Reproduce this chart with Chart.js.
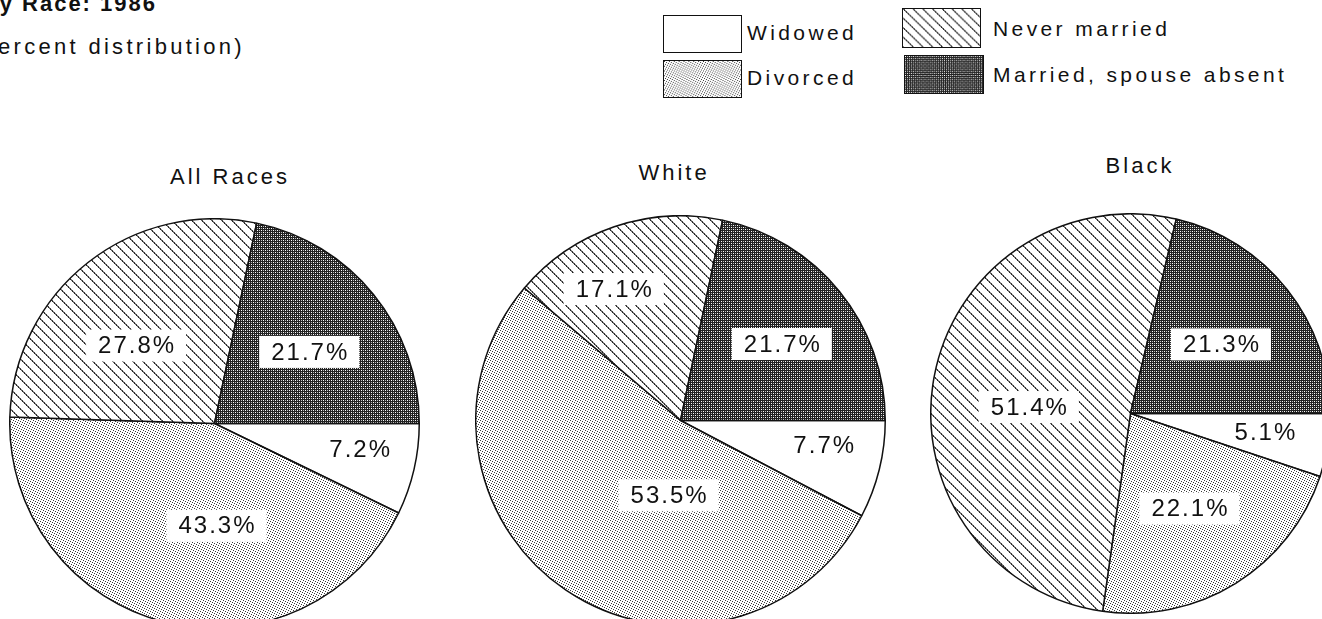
<!DOCTYPE html>
<html>
<head>
<meta charset="utf-8">
<script src="https://cdn.jsdelivr.net/npm/chart.js@4.4.0/dist/chart.umd.min.js"></script>
<style>
  html, body { margin: 0; padding: 0; background: #fff; }
  body { width: 1322px; height: 619px; overflow: hidden; position: relative;
         font-family: "Liberation Sans", Arial, sans-serif; color: #111; }
  .abs { position: absolute; white-space: nowrap; line-height: 1; }
  .pie { position: absolute; }
  .title { position: absolute; width: 200px; text-align: center; font-size: 22px;
           letter-spacing: 3px; line-height: 24px; }
  .legtext { position: absolute; font-size: 21px; letter-spacing: 3.4px; line-height: 1; white-space: nowrap; }
  .legbox { position: absolute; border: 1.5px solid #111; box-sizing: border-box; }
</style>
</head>
<body>
<div class="abs" style="right:1165px; top:-7px; font-size:22px; font-weight:bold; letter-spacing:2px;">by Race: 1986</div>
<div class="abs" style="right:1077px; top:36px; font-size:22px; letter-spacing:3.3px;">(percent distribution)</div>

<div id="legend"></div>

<div class="title" style="left:130px; top:165px;" id="t0"></div>
<div class="title" style="left:574px; top:161px;" id="t1"></div>
<div class="title" style="left:1040px; top:154px;" id="t2"></div>

<canvas id="pie0" class="pie" width="411" height="411" style="left:9px; top:218px;"></canvas>
<canvas id="pie1" class="pie" width="411" height="411" style="left:475px; top:215px;"></canvas>
<canvas id="pie2" class="pie" width="401" height="401" style="left:930px; top:213px;"></canvas>

<script>
// נתונים
const categories = ['Widowed', 'Divorced', 'Never married', 'Married, spouse absent'];
const chartTitles = ['All Races', 'White', 'Black'];
const allRacesValues = [7.2, 43.3, 27.8, 21.7];
const whiteValues = [7.7, 53.5, 17.1, 21.7];
const blackValues = [5.1, 22.1, 51.4, 21.3];

// דפוסי מילוי (כמו בהדפסה המקורית)
function makePattern(kind) {
    const c = document.createElement('canvas');
    const g = c.getContext('2d');
    if (kind === 'dots') {
        // נקודות מפוזרות בסריג של 5x5
        c.width = c.height = 5;
        g.fillStyle = '#fff'; g.fillRect(0, 0, 5, 5);
        g.fillStyle = '#3a3a3a';
        [[0, 0], [2, 1], [4, 2], [1, 3], [3, 4]].forEach(([x, y]) => g.fillRect(x, y, 1, 1));
    } else if (kind === 'dark') {
        c.width = c.height = 4;
        g.fillStyle = '#222'; g.fillRect(0, 0, 4, 4);
        g.fillStyle = '#fff';
        g.fillRect(0, 0, 1, 1); g.fillRect(2, 2, 1, 1);
        g.fillStyle = '#bbb';
        g.fillRect(2, 0, 1, 1); g.fillRect(0, 2, 1, 1);
    } else if (kind === 'hatch') {
        c.width = c.height = 10;
        g.fillStyle = '#fff'; g.fillRect(0, 0, 10, 10);
        for (let i = 0; i < 10; i++) {
            g.fillStyle = i % 2 ? '#222' : '#666';
            g.fillRect(i, i, 1, 1);
            g.fillStyle = i % 2 ? '#888' : '#444';
            g.fillRect((i + 1) % 10, i, 1, 1);
        }
    } else {
        c.width = c.height = 2;
        g.fillStyle = '#fff'; g.fillRect(0, 0, 2, 2);
    }
    return g.createPattern(c, 'repeat');
}

const fills = [makePattern('white'), makePattern('dots'), makePattern('hatch'), makePattern('dark')];

// תוויות האחוזים בתוך הפרוסות
const sliceLabels = {
    id: 'sliceLabels',
    afterDatasetsDraw(chart, args, opts) {
        const ctx = chart.ctx;
        const meta = chart.getDatasetMeta(0);
        const values = chart.data.datasets[0].data;
        ctx.save();
        ctx.font = '24px "Liberation Sans", Arial, sans-serif';
        ctx.letterSpacing = '2px';
        ctx.textAlign = 'center';
        ctx.textBaseline = 'middle';
        meta.data.forEach((arc, i) => {
            const p = arc.getProps(['x', 'y', 'startAngle', 'endAngle', 'outerRadius'], true);
            const mid = (p.startAngle + p.endAngle) / 2 + opts.turn[i] * Math.PI / 180;
            const d = opts.dist[i] * p.outerRadius;
            const x = p.x + Math.cos(mid) * d;
            const y = p.y + Math.sin(mid) * d;
            const text = values[i].toFixed(1) + '%';
            const w = ctx.measureText(text).width + 22;
            if (opts.boxed[i]) {
                ctx.fillStyle = '#fff';
                ctx.fillRect(x - w / 2, y - 16, w, 32);
            }
            ctx.fillStyle = '#111';
            ctx.fillText(text, x + 1, y + 1);
        });
        ctx.restore();
    }
};

function drawPie(canvasId, values, dist, turn) {
    const ctx = document.getElementById(canvasId).getContext('2d');
    return new Chart(ctx, {
        type: 'pie',
        data: {
            labels: categories,
            datasets: [{
                data: values,
                backgroundColor: fills,
                borderColor: '#111',
                borderWidth: 1.5
            }]
        },
        options: {
            responsive: false,
            animation: false,
            events: [],
            rotation: 90, // מתחיל בשעה 3
            layout: { padding: 0 },
            plugins: {
                legend: { display: false },
                tooltip: { enabled: false },
                sliceLabels: { dist: dist, turn: turn, boxed: [false, true, true, true] }
            }
        },
        plugins: [sliceLabels]
    });
}

drawPie('pie0', allRacesValues, [0.72, 0.50, 0.54, 0.58], [-3, -15, -7, 2]);
drawPie('pie1', whiteValues, [0.71, 0.37, 0.72, 0.62], [-4, -25, -8, 2]);
drawPie('pie2', blackValues, [0.68, 0.56, 0.51, 0.57], [-1, 0, -7, 1]);

chartTitles.forEach((t, i) => { document.getElementById('t' + i).textContent = t; });

// מקרא
const legendSpots = [
    { box: [663, 15, 79, 38], text: [747, 22] },
    { box: [663, 60, 79, 38], text: [747, 67] },
    { box: [902, 8, 79, 40], text: [993, 18] },
    { box: [904, 55, 80, 39], text: [993, 64] }
];
const legend = document.getElementById('legend');
categories.forEach((name, i) => {
    const s = legendSpots[i];
    const box = document.createElement('canvas');
    box.className = 'legbox';
    box.width = s.box[2]; box.height = s.box[3];
    box.style.left = s.box[0] + 'px'; box.style.top = s.box[1] + 'px';
    box.style.width = s.box[2] + 'px'; box.style.height = s.box[3] + 'px';
    const g = box.getContext('2d');
    g.fillStyle = fills[i];
    g.fillRect(0, 0, s.box[2], s.box[3]);
    legend.appendChild(box);
    const label = document.createElement('div');
    label.className = 'legtext';
    label.style.left = s.text[0] + 'px'; label.style.top = s.text[1] + 'px';
    label.textContent = name;
    legend.appendChild(label);
});
</script>
</body>
</html>
